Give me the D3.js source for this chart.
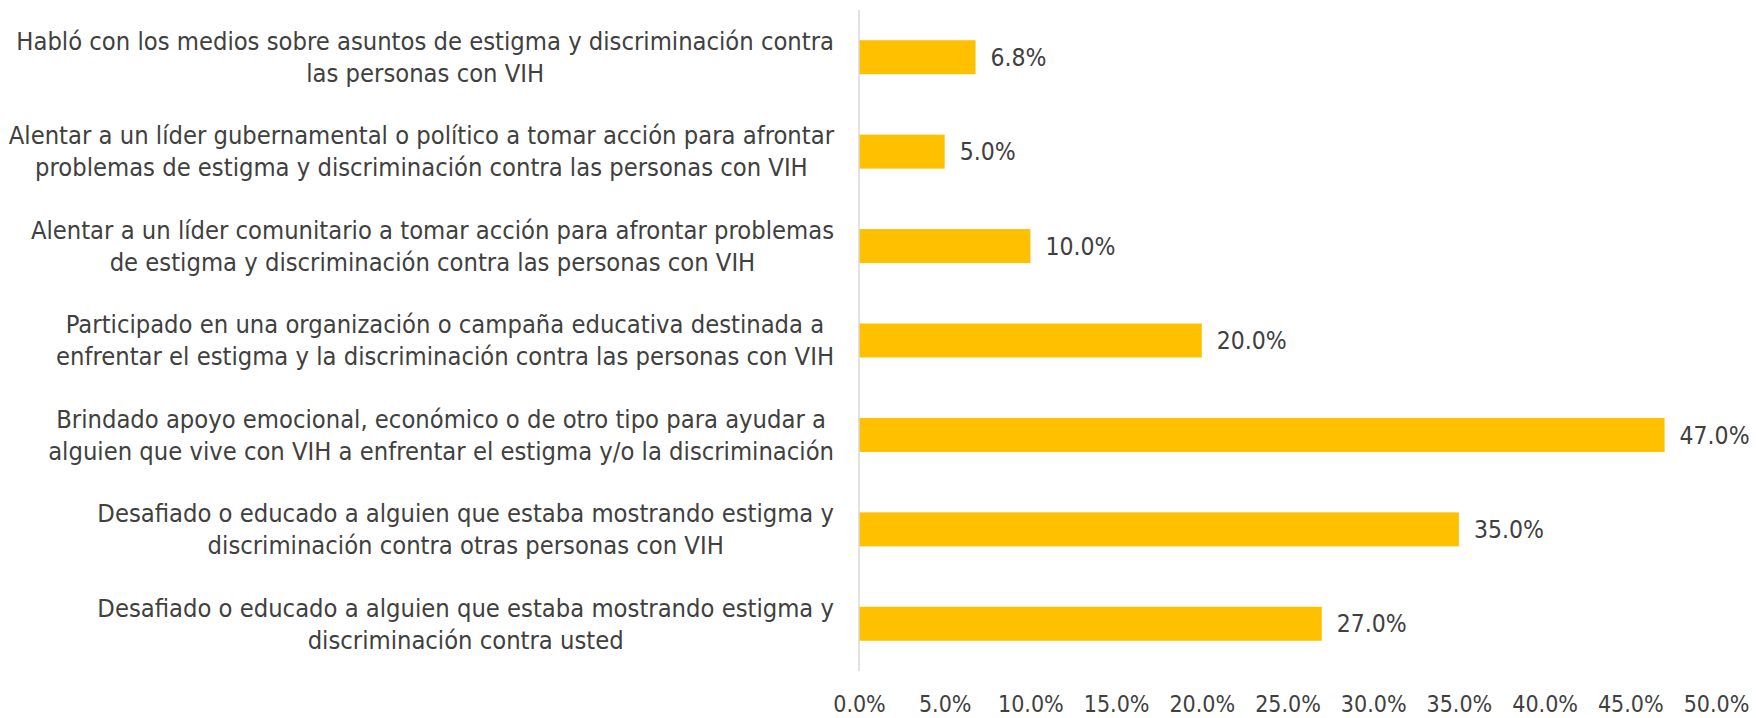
<!DOCTYPE html>
<html>
<head>
<meta charset="utf-8">
<script src="https://cdn.jsdelivr.net/npm/d3@7"></script>
<style>
  body { margin: 0; background: #fff; }
  svg text { font-family: "DejaVu Sans Condensed", "DejaVu Sans", sans-serif; font-stretch: condensed; fill: #404040; }
</style>
</head>
<body>
<svg id="chart" width="1756" height="718"></svg>
<script>
// categories, top to bottom ("\n" = line break as in the original)
const categories = [
  "Habló con los medios sobre asuntos de estigma y discriminación contra\nlas personas con VIH",
  "Alentar a un líder gubernamental o político a tomar acción para afrontar\nproblemas de estigma y discriminación contra las personas con VIH",
  "Alentar a un líder comunitario a tomar acción para afrontar problemas\nde estigma y discriminación contra las personas con VIH",
  "Participado en una organización o campaña educativa destinada a\nenfrentar el estigma y la discriminación contra las personas con VIH",
  "Brindado apoyo emocional, económico o de otro tipo para ayudar a\nalguien que vive con VIH a enfrentar el estigma y/o la discriminación",
  "Desafiado o educado a alguien que estaba mostrando estigma y\ndiscriminación contra otras personas con VIH",
  "Desafiado o educado a alguien que estaba mostrando estigma y\ndiscriminación contra usted"
];
const values = [6.8, 5.0, 10.0, 20.0, 47.0, 35.0, 27.0];
const ticks = [0, 5, 10, 15, 20, 25, 30, 35, 40, 45, 50];

const svg = d3.select("#chart");
const x = d3.scaleLinear().domain([0, 50]).range([859, 1716]);
const y = d3.scaleBand().domain(categories).range([10, 671]).paddingInner(0.64).paddingOuter(0.32);

// bars
svg.selectAll("rect.bar").data(values).enter().append("rect")
  .attr("class", "bar")
  .attr("x", x(0))
  .attr("y", (d, i) => y(categories[i]))
  .attr("width", d => x(d) - x(0))
  .attr("height", y.bandwidth())
  .attr("fill", "#FFC000");

// value labels
svg.selectAll("text.val").data(values).enter().append("text")
  .attr("class", "val")
  .attr("x", d => x(d) + 15)
  .attr("y", (d, i) => y(categories[i]) + y.bandwidth() / 2)
  .attr("dy", "0.35em")
  .attr("font-size", 24.5)
  .text(d => d.toFixed(1) + "%");

// vertical axis line
svg.append("line")
  .attr("x1", x(0)).attr("x2", x(0))
  .attr("y1", 10).attr("y2", 671)
  .attr("stroke", "#d9d9d9").attr("stroke-width", 1.5);

// category labels: block right-aligned, lines centred within the block
const labelRight = 834;
categories.forEach((c, i) => {
  const lines = c.split("\n");
  const g = svg.append("g");
  const cy = y(c) + y.bandwidth() / 2;
  const ts = lines.map((ln, j) => g.append("text")
    .attr("y", cy + (j - (lines.length - 1) / 2) * 32)
    .attr("dy", "0.35em")
    .attr("font-size", 25.3)
    .attr("text-anchor", "middle")
    .text(ln));
  const w = d3.max(ts, t => t.node().getComputedTextLength());
  ts.forEach(t => t.attr("x", labelRight - w / 2));
});

// x axis tick labels
const xAxis = d3.axisBottom(x).tickValues(ticks).tickSize(0).tickFormat(d => d.toFixed(1) + "%");
const ax = svg.append("g").attr("transform", "translate(0,693)").call(xAxis);
ax.select(".domain").remove();
ax.selectAll("text").attr("font-size", 23).attr("fill", "#404040");
</script>
</body>
</html>
